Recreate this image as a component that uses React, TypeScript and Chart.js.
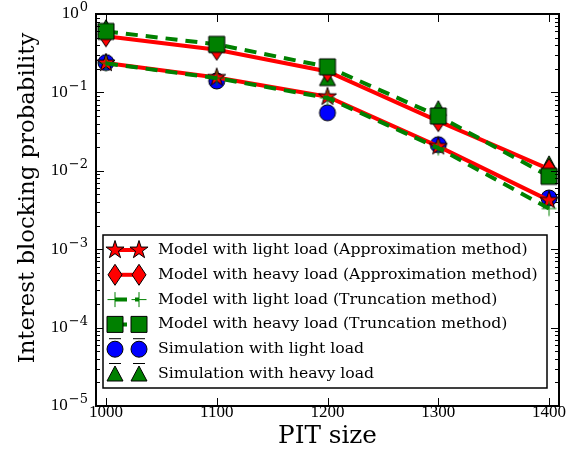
import React, { useEffect, useRef } from 'react';
import { Chart, registerables } from 'chart.js';

Chart.register(...registerables);

// ---- data ----
const pitSizes = [1000, 1100, 1200, 1300, 1400];
const approxLight = [0.237, 0.155, 0.088, 0.0205, 0.0042];
const approxHeavy = [0.52, 0.35, 0.185, 0.043, 0.0105];
const truncLight = [0.235, 0.152, 0.085, 0.0195, 0.0033];
const truncHeavy = [0.6, 0.41, 0.212, 0.05, 0.0085];
const simLight = [0.24, 0.14, 0.055, 0.0215, 0.0045];
const simHeavy = [0.67, 0.4, 0.15, 0.062, 0.0123];
const xTicks = [1000, 1100, 1200, 1300, 1400];
const yDecades = [0, -1, -2, -3, -4, -5];
const legendLabels = [
  'Model with light load (Approximation method)',
  'Model with heavy load (Approximation method)',
  'Model with light load (Truncation method)',
  'Model with heavy load (Truncation method)',
  'Simulation with light load',
  'Simulation with heavy load',
];
const xTitle = 'PIT size';
const yTitle = 'Interest blocking probability';

const RED = '#ff0000';
const GREEN = '#008000';
const BLUE = '#0000ff';
const SERIF = '"DejaVu Serif", serif';
const NUMFONT = '"Liberation Serif", serif';

type MarkerType = 'star' | 'diamond' | 'plus' | 'square' | 'circle' | 'triangle';

function drawMarker(ctx: CanvasRenderingContext2D, type: MarkerType, x: number, y: number) {
  ctx.save();
  ctx.lineWidth = 1;
  ctx.strokeStyle = '#000';
  ctx.setLineDash([]);
  ctx.beginPath();
  if (type === 'star') {
    const R = 9.5, r = R * 0.382;
    for (let i = 0; i < 10; i++) {
      const ang = -Math.PI / 2 + (i * Math.PI) / 5;
      const rr = i % 2 ? r : R;
      ctx.lineTo(x + rr * Math.cos(ang), y + rr * Math.sin(ang));
    }
    ctx.closePath();
    ctx.fillStyle = RED;
    ctx.fill();
    ctx.stroke();
  } else if (type === 'diamond') {
    const w = 7, h = 10.5;
    ctx.moveTo(x, y - h);
    ctx.lineTo(x + w, y);
    ctx.lineTo(x, y + h);
    ctx.lineTo(x - w, y);
    ctx.closePath();
    ctx.fillStyle = RED;
    ctx.fill();
    ctx.stroke();
  } else if (type === 'plus') {
    ctx.strokeStyle = GREEN;
    ctx.moveTo(x - 7.5, y);
    ctx.lineTo(x + 7.5, y);
    ctx.moveTo(x, y - 7.5);
    ctx.lineTo(x, y + 7.5);
    ctx.stroke();
  } else if (type === 'square') {
    ctx.rect(x - 8, y - 8, 16, 16);
    ctx.fillStyle = GREEN;
    ctx.fill();
    ctx.stroke();
  } else if (type === 'circle') {
    ctx.arc(x, y, 8, 0, Math.PI * 2);
    ctx.fillStyle = BLUE;
    ctx.fill();
    ctx.stroke();
  } else if (type === 'triangle') {
    ctx.moveTo(x, y - 8);
    ctx.lineTo(x + 8, y + 7);
    ctx.lineTo(x - 8, y + 7);
    ctx.closePath();
    ctx.fillStyle = GREEN;
    ctx.fill();
    ctx.stroke();
  }
  ctx.restore();
}

function makeMarker(type: MarkerType): HTMLCanvasElement {
  const c = document.createElement('canvas');
  c.width = 28;
  c.height = 28;
  const cx = c.getContext('2d')!;
  drawMarker(cx, type, 14, 14);
  return c;
}

function fitSize(ctx: CanvasRenderingContext2D, text: string, family: string, target: number) {
  ctx.font = `100px ${family}`;
  return (100 * target) / ctx.measureText(text).width;
}

interface LegendEntry {
  label: string;
  marker: MarkerType;
  line: 'solid' | 'dashed' | 'none';
  color: string;
  cap: boolean;
}

const legendEntries: LegendEntry[] = [
  { label: legendLabels[0], marker: 'star', line: 'solid', color: RED, cap: false },
  { label: legendLabels[1], marker: 'diamond', line: 'solid', color: RED, cap: false },
  { label: legendLabels[2], marker: 'plus', line: 'dashed', color: GREEN, cap: false },
  { label: legendLabels[3], marker: 'square', line: 'dashed', color: GREEN, cap: false },
  { label: legendLabels[4], marker: 'circle', line: 'none', color: BLUE, cap: true },
  { label: legendLabels[5], marker: 'triangle', line: 'none', color: GREEN, cap: true },
];

const decorPlugin = {
  id: 'decor',
  afterDraw(chart: any) {
    const { ctx, chartArea: a, scales } = chart;
    const xs = scales.x;
    const ys = scales.y;
    ctx.save();
    // ticks (inside, all four sides)
    ctx.strokeStyle = '#000';
    ctx.lineWidth = 1;
    ctx.setLineDash([]);
    ctx.beginPath();
    for (const v of xTicks) {
      const px = Math.round(xs.getPixelForValue(v)) + 0.5;
      ctx.moveTo(px, a.bottom);
      ctx.lineTo(px, a.bottom - 8);
      ctx.moveTo(px, a.top);
      ctx.lineTo(px, a.top + 8);
    }
    for (let e = -5; e <= 0; e++) {
      for (let m = 1; m <= 9; m++) {
        if (e === 0 && m > 1) break;
        const py = Math.round(ys.getPixelForValue(m * Math.pow(10, e))) + 0.5;
        const len = m === 1 ? 8 : 4;
        ctx.moveTo(a.left, py);
        ctx.lineTo(a.left + len, py);
        ctx.moveTo(a.right, py);
        ctx.lineTo(a.right - len, py);
      }
    }
    ctx.stroke();
    // frame
    ctx.lineWidth = 2;
    ctx.strokeRect(a.left, a.top, a.right - a.left, a.bottom - a.top);

    // x tick labels
    ctx.fillStyle = '#000';
    ctx.font = `17px ${NUMFONT}`;
    ctx.textAlign = 'center';
    ctx.textBaseline = 'middle';
    for (const v of xTicks) {
      ctx.fillText(String(v), xs.getPixelForValue(v), a.bottom + 7);
    }
    // y tick labels 10^k
    for (const k of yDecades) {
      const py = ys.getPixelForValue(Math.pow(10, k));
      const sup = k === 0 ? '0' : '\u2212' + String(-k);
      ctx.font = `13px ${SERIF}`;
      ctx.textAlign = 'right';
      ctx.textBaseline = 'middle';
      const right = a.left - 8;
      const supW = ctx.measureText(sup).width;
      ctx.fillText(sup, right, py - 6);
      ctx.font = `17px ${NUMFONT}`;
      ctx.fillText('10', right - supW - 1, py);
    }
    // axis titles
    const xs2 = fitSize(ctx, xTitle, SERIF, 99);
    ctx.font = `${xs2}px ${SERIF}`;
    ctx.textAlign = 'center';
    ctx.textBaseline = 'middle';
    ctx.fillText(xTitle, (a.left + a.right) / 2, 437);
    const ys2 = fitSize(ctx, yTitle, SERIF, 331);
    ctx.save();
    ctx.translate(28, 198);
    ctx.rotate(-Math.PI / 2);
    ctx.font = `${ys2}px ${SERIF}`;
    ctx.fillText(yTitle, 0, 0);
    ctx.restore();

    // legend box
    const bx = 103, by = 235, bw = 444, bh = 153;
    ctx.fillStyle = '#fff';
    ctx.fillRect(bx, by, bw, bh);
    ctx.lineWidth = 1.5;
    ctx.strokeStyle = '#000';
    ctx.strokeRect(bx, by, bw, bh);
    const lsize = fitSize(ctx, legendLabels[1], SERIF, 380);
    const m1 = 115, m2 = 139, tx = 158;
    legendEntries.forEach((en, i) => {
      const cy = 250 + i * 24.8;
      if (en.line !== 'none') {
        ctx.save();
        ctx.strokeStyle = en.color;
        ctx.lineWidth = 4;
        ctx.setLineDash(en.line === 'dashed' ? [12, 8] : []);
        ctx.beginPath();
        ctx.moveTo(m1, cy);
        ctx.lineTo(m2, cy);
        ctx.stroke();
        ctx.restore();
      }
      for (const mx of [m1, m2]) {
        if (en.cap) {
          ctx.save();
          ctx.strokeStyle = '#000';
          ctx.lineWidth = 1;
          ctx.beginPath();
          ctx.moveTo(mx - 6, cy - 10.5);
          ctx.lineTo(mx + 6, cy - 10.5);
          ctx.stroke();
          ctx.restore();
        }
        drawMarker(ctx, en.marker, mx, cy);
      }
      ctx.fillStyle = '#000';
      ctx.font = `${lsize}px ${SERIF}`;
      ctx.textAlign = 'left';
      ctx.textBaseline = 'middle';
      ctx.fillText(en.label, tx, cy);
    });
    ctx.restore();
  },
};

export default function App() {
  const ref = useRef<HTMLCanvasElement | null>(null);
  useEffect(() => {
    document.body.style.margin = '0';
    const canvas = ref.current!;
    const mk = {
      star: makeMarker('star'),
      diamond: makeMarker('diamond'),
      plus: makeMarker('plus'),
      square: makeMarker('square'),
      circle: makeMarker('circle'),
      triangle: makeMarker('triangle'),
    };
    const pts = (arr: number[]) => pitSizes.map((x, i) => ({ x, y: arr[i] }));
    const base = { pointRadius: 8, tension: 0, clip: false as any };
    const chart = new Chart(canvas, {
      type: 'line',
      data: {
        datasets: [
          { ...base, label: legendLabels[0], data: pts(approxLight), borderColor: RED, borderWidth: 4, pointStyle: mk.star as any, order: 4 },
          { ...base, label: legendLabels[1], data: pts(approxHeavy), borderColor: RED, borderWidth: 4, pointStyle: mk.diamond as any, order: 3 },
          { ...base, label: legendLabels[2], data: pts(truncLight), borderColor: GREEN, borderWidth: 4, borderDash: [12, 8], pointStyle: mk.plus as any, order: 2 },
          { ...base, label: legendLabels[3], data: pts(truncHeavy), borderColor: GREEN, borderWidth: 4, borderDash: [12, 8], pointStyle: mk.square as any, order: 1 },
          { ...base, label: legendLabels[4], data: pts(simLight), showLine: false, borderColor: BLUE, pointStyle: mk.circle as any, order: 6 },
          { ...base, label: legendLabels[5], data: pts(simHeavy), showLine: false, borderColor: GREEN, pointStyle: mk.triangle as any, order: 5 },
        ],
      },
      options: {
        responsive: false,
        animation: false,
        devicePixelRatio: 1,
        layout: { padding: { left: 96, top: 14, right: 19, bottom: 49 } },
        plugins: { legend: { display: false }, tooltip: { enabled: false } },
        scales: {
          x: { type: 'linear', display: false, min: 991, max: 1409 },
          y: { type: 'logarithmic', display: false, min: 1e-5, max: 1 },
        },
      },
      plugins: [decorPlugin],
    });
    return () => chart.destroy();
  }, []);
  return (
    <div style={{ position: 'absolute', left: 0, top: 0, width: 578, height: 455, background: '#fff' }}>
      <canvas ref={ref} width={578} height={455} style={{ width: 578, height: 455, display: 'block' }} />
    </div>
  );
}
